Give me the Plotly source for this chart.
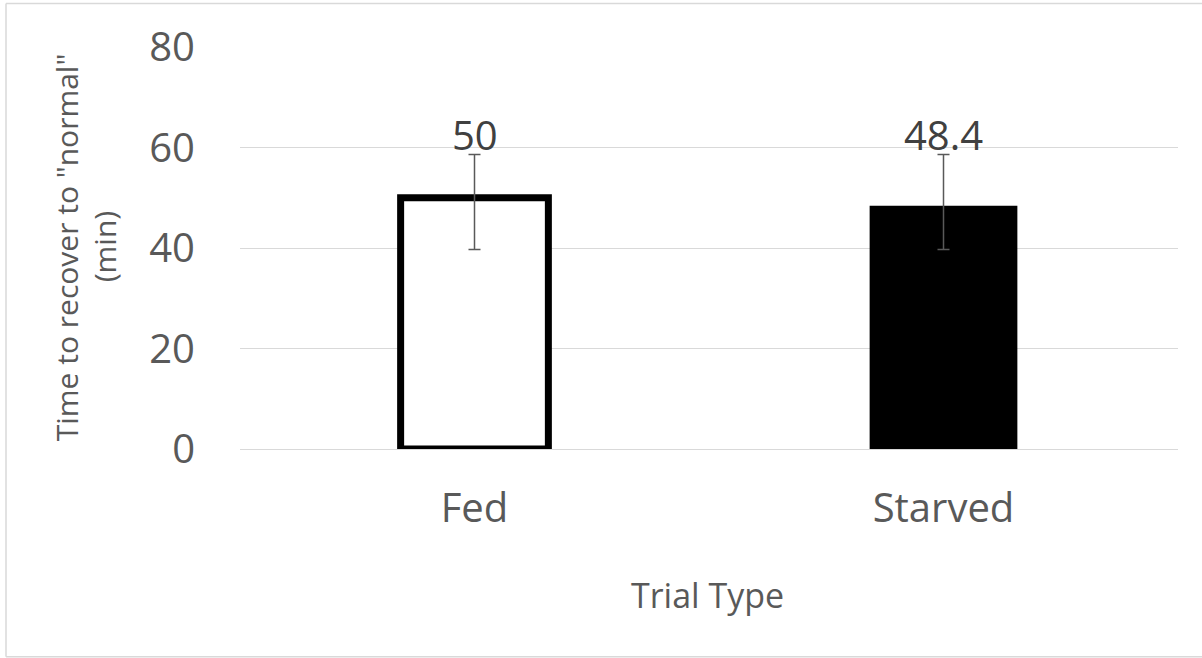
import plotly.graph_objects as go

categories = ["Fed", "Starved"]
values = [50, 48.4]
err_plus = [8.6, 10.2]
err_minus = [10.3, 8.7]
y_ticks = [0, 20, 40, 60, 80]

FONT = "Open Sans"
GRAY = "#595959"
GRID = "#d9d9d9"

W, H = 1202, 658
L, R, T, B = 240, 1178, 47, 449.5   # plot area in px

fig = go.Figure()
fig.add_trace(go.Bar(
    x=categories, y=values,
    width=0.315,
    marker=dict(color=["white", "black"],
                line=dict(color=["black", "black"], width=[7, 0])),
    error_y=dict(type="data", symmetric=False, array=err_plus, arrayminus=err_minus,
                 color=GRAY, thickness=1.5, width=6),
    showlegend=False,
))

for c, v in zip(categories, values):
    fig.add_annotation(x=c, y=62.5, text=f"{v:g}", showarrow=False,
                       font=dict(family=FONT, size=40, color="#404040"),
                       yanchor="middle")

def px_x(p):
    return (p - L) / (R - L)

def px_y(p):
    return (B - p) / (B - T)

fig.add_annotation(xref="paper", yref="paper", x=px_x(66), y=px_y(248),
                   text='Time to recover to "normal"', textangle=-90,
                   showarrow=False, font=dict(family=FONT, size=30, color=GRAY),
                   xanchor="center", yanchor="middle")
fig.add_annotation(xref="paper", yref="paper", x=px_x(104), y=px_y(248),
                   text="(min)", textangle=-90,
                   showarrow=False, font=dict(family=FONT, size=30, color=GRAY),
                   xanchor="center", yanchor="middle")
fig.add_annotation(xref="paper", yref="paper", x=px_x(707), y=px_y(595),
                   text="Trial Type", showarrow=False,
                   font=dict(family=FONT, size=34, color=GRAY),
                   xanchor="center", yanchor="middle")

# chart-area frame (left, top, bottom edges; right edge lies outside the picture)
border = dict(color=GRID, width=1.5)
fig.add_shape(type="line", xref="paper", yref="paper",
              x0=px_x(6), x1=px_x(6), y0=px_y(657), y1=px_y(4.5), line=border, layer="below")
fig.add_shape(type="line", xref="paper", yref="paper",
              x0=px_x(6), x1=px_x(1202), y0=px_y(4.5), y1=px_y(4.5), line=border, layer="below")
fig.add_shape(type="line", xref="paper", yref="paper",
              x0=px_x(6), x1=px_x(1202), y0=px_y(657), y1=px_y(657), line=border, layer="below")

fig.update_layout(
    width=W, height=H,
    margin=dict(l=L, r=W - R, t=T - 1, b=H - B),
    plot_bgcolor="white", paper_bgcolor="white",
    font=dict(family=FONT, color=GRAY),
    xaxis=dict(showgrid=False, showline=False, zeroline=False,
               tickfont=dict(family=FONT, size=40, color=GRAY),
               ticklabelstandoff=32),
    yaxis=dict(range=[0, 80.2], tickvals=y_ticks, showgrid=True, gridcolor=GRID,
               gridwidth=1.3, zeroline=True, zerolinecolor=GRID, zerolinewidth=1.3,
               showline=False,
               tickfont=dict(family=FONT, size=40, color=GRAY),
               ticklabelstandoff=44),
    bargap=0.685,
)

fig.write_html("out.html", config={"displayModeBar": False},
               post_script="document.body.style.margin='0';")
